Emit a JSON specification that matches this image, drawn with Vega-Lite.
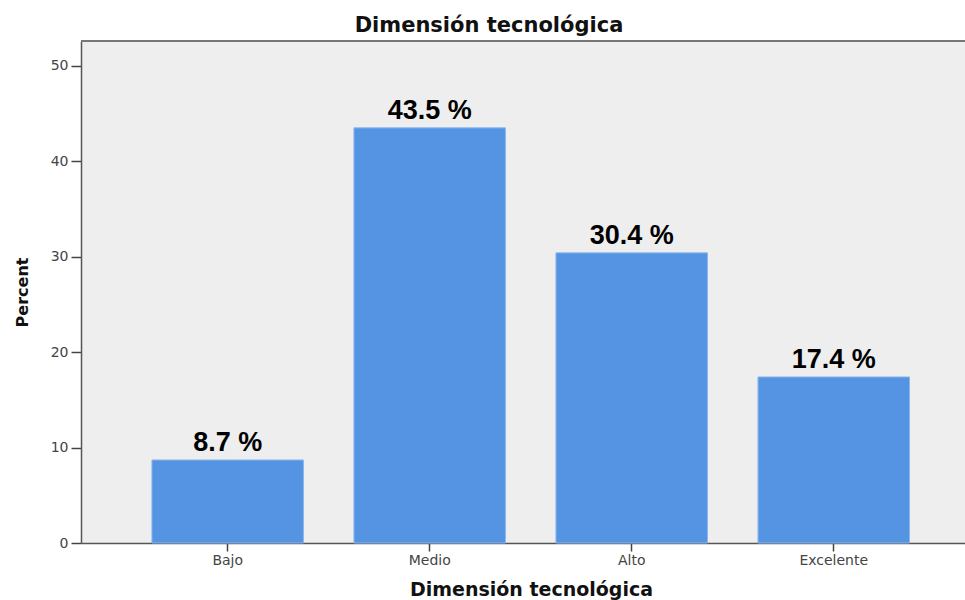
{
  "$schema": "https://vega.github.io/schema/vega-lite/v6.json",
  "autosize": {"type": "none"},
  "padding": {"left": 81, "top": 41, "right": 0, "bottom": 57},
  "width": 884,
  "height": 502,
  "background": "white",
  "title": {
    "text": "Dimensión tecnológica",
    "font": "DejaVu Sans",
    "fontSize": 21,
    "fontWeight": "bold",
    "color": "#111111",
    "anchor": "middle",
    "baseline": "alphabetic",
    "offset": 9,
    "dx": -34,
    "dy": 22,
    "limit": 0
  },
  "config": {
    "view": {"fill": "#eeeeee", "stroke": null},
    "font": "DejaVu Sans"
  },
  "data": {
    "values": [
      {"categoria": "Bajo", "porcentaje": 8.7},
      {"categoria": "Medio", "porcentaje": 43.5},
      {"categoria": "Alto", "porcentaje": 30.4},
      {"categoria": "Excelente", "porcentaje": 17.4}
    ]
  },
  "encoding": {
    "x": {
      "field": "categoria",
      "type": "nominal",
      "sort": ["Bajo", "Medio", "Alto", "Excelente"],
      "scale": {"paddingInner": 0.25, "paddingOuter": 0.313, "align": 0.561},
      "axis": {
        "title": "Dimensión tecnológica",
        "titleFont": "DejaVu Sans",
        "titleFontSize": 19,
        "titleFontWeight": "bold",
        "titleColor": "#111111",
        "titleBaseline": "alphabetic",
        "titleY": 52,
        "titleX": 450,
        "labelAngle": 0,
        "labelFont": "DejaVu Sans",
        "labelFontSize": 14,
        "labelColor": "#444444",
        "labelPadding": 2,
        "tickSize": 8,
        "tickColor": "#444444",
        "tickWidth": 1.5,
        "domainColor": "#555555",
        "domainWidth": 1.5,
        "grid": false
      }
    },
    "y": {
      "field": "porcentaje",
      "type": "quantitative",
      "scale": {"domain": [0, 52.6], "nice": false},
      "axis": {
        "title": "Percent",
        "titleFont": "DejaVu Sans",
        "titleFontSize": 16,
        "titleFontWeight": "bold",
        "titleColor": "#111111",
        "titleX": -59,
        "titleY": 251,
        "titleBaseline": "middle",
        "titleAngle": -90,
        "values": [0, 10, 20, 30, 40, 50],
        "labelFont": "DejaVu Sans",
        "labelFontSize": 14,
        "labelColor": "#444444",
        "labelPadding": 3,
        "tickSize": 10,
        "tickColor": "#444444",
        "tickWidth": 1.5,
        "domainColor": "#555555",
        "domainWidth": 1.5,
        "grid": false
      }
    }
  },
  "layer": [
    {
      "mark": {"type": "bar", "color": "#5594e2", "stroke": "#8cb7ec", "strokeWidth": 1}
    },
    {
      "mark": {
        "type": "text",
        "baseline": "alphabetic",
        "dy": -9,
        "fontSize": 27,
        "fontWeight": "bold",
        "color": "#000000",
        "font": "Liberation Sans",
        "text": {"expr": "format(datum.porcentaje, '.1f') + ' %'"}
      }
    },
    {
      "mark": {"type": "rule", "color": "#777777", "strokeWidth": 1.5},
      "encoding": {
        "x": null,
        "y": {"datum": 52.6, "type": "quantitative"}
      }
    }
  ]
}
